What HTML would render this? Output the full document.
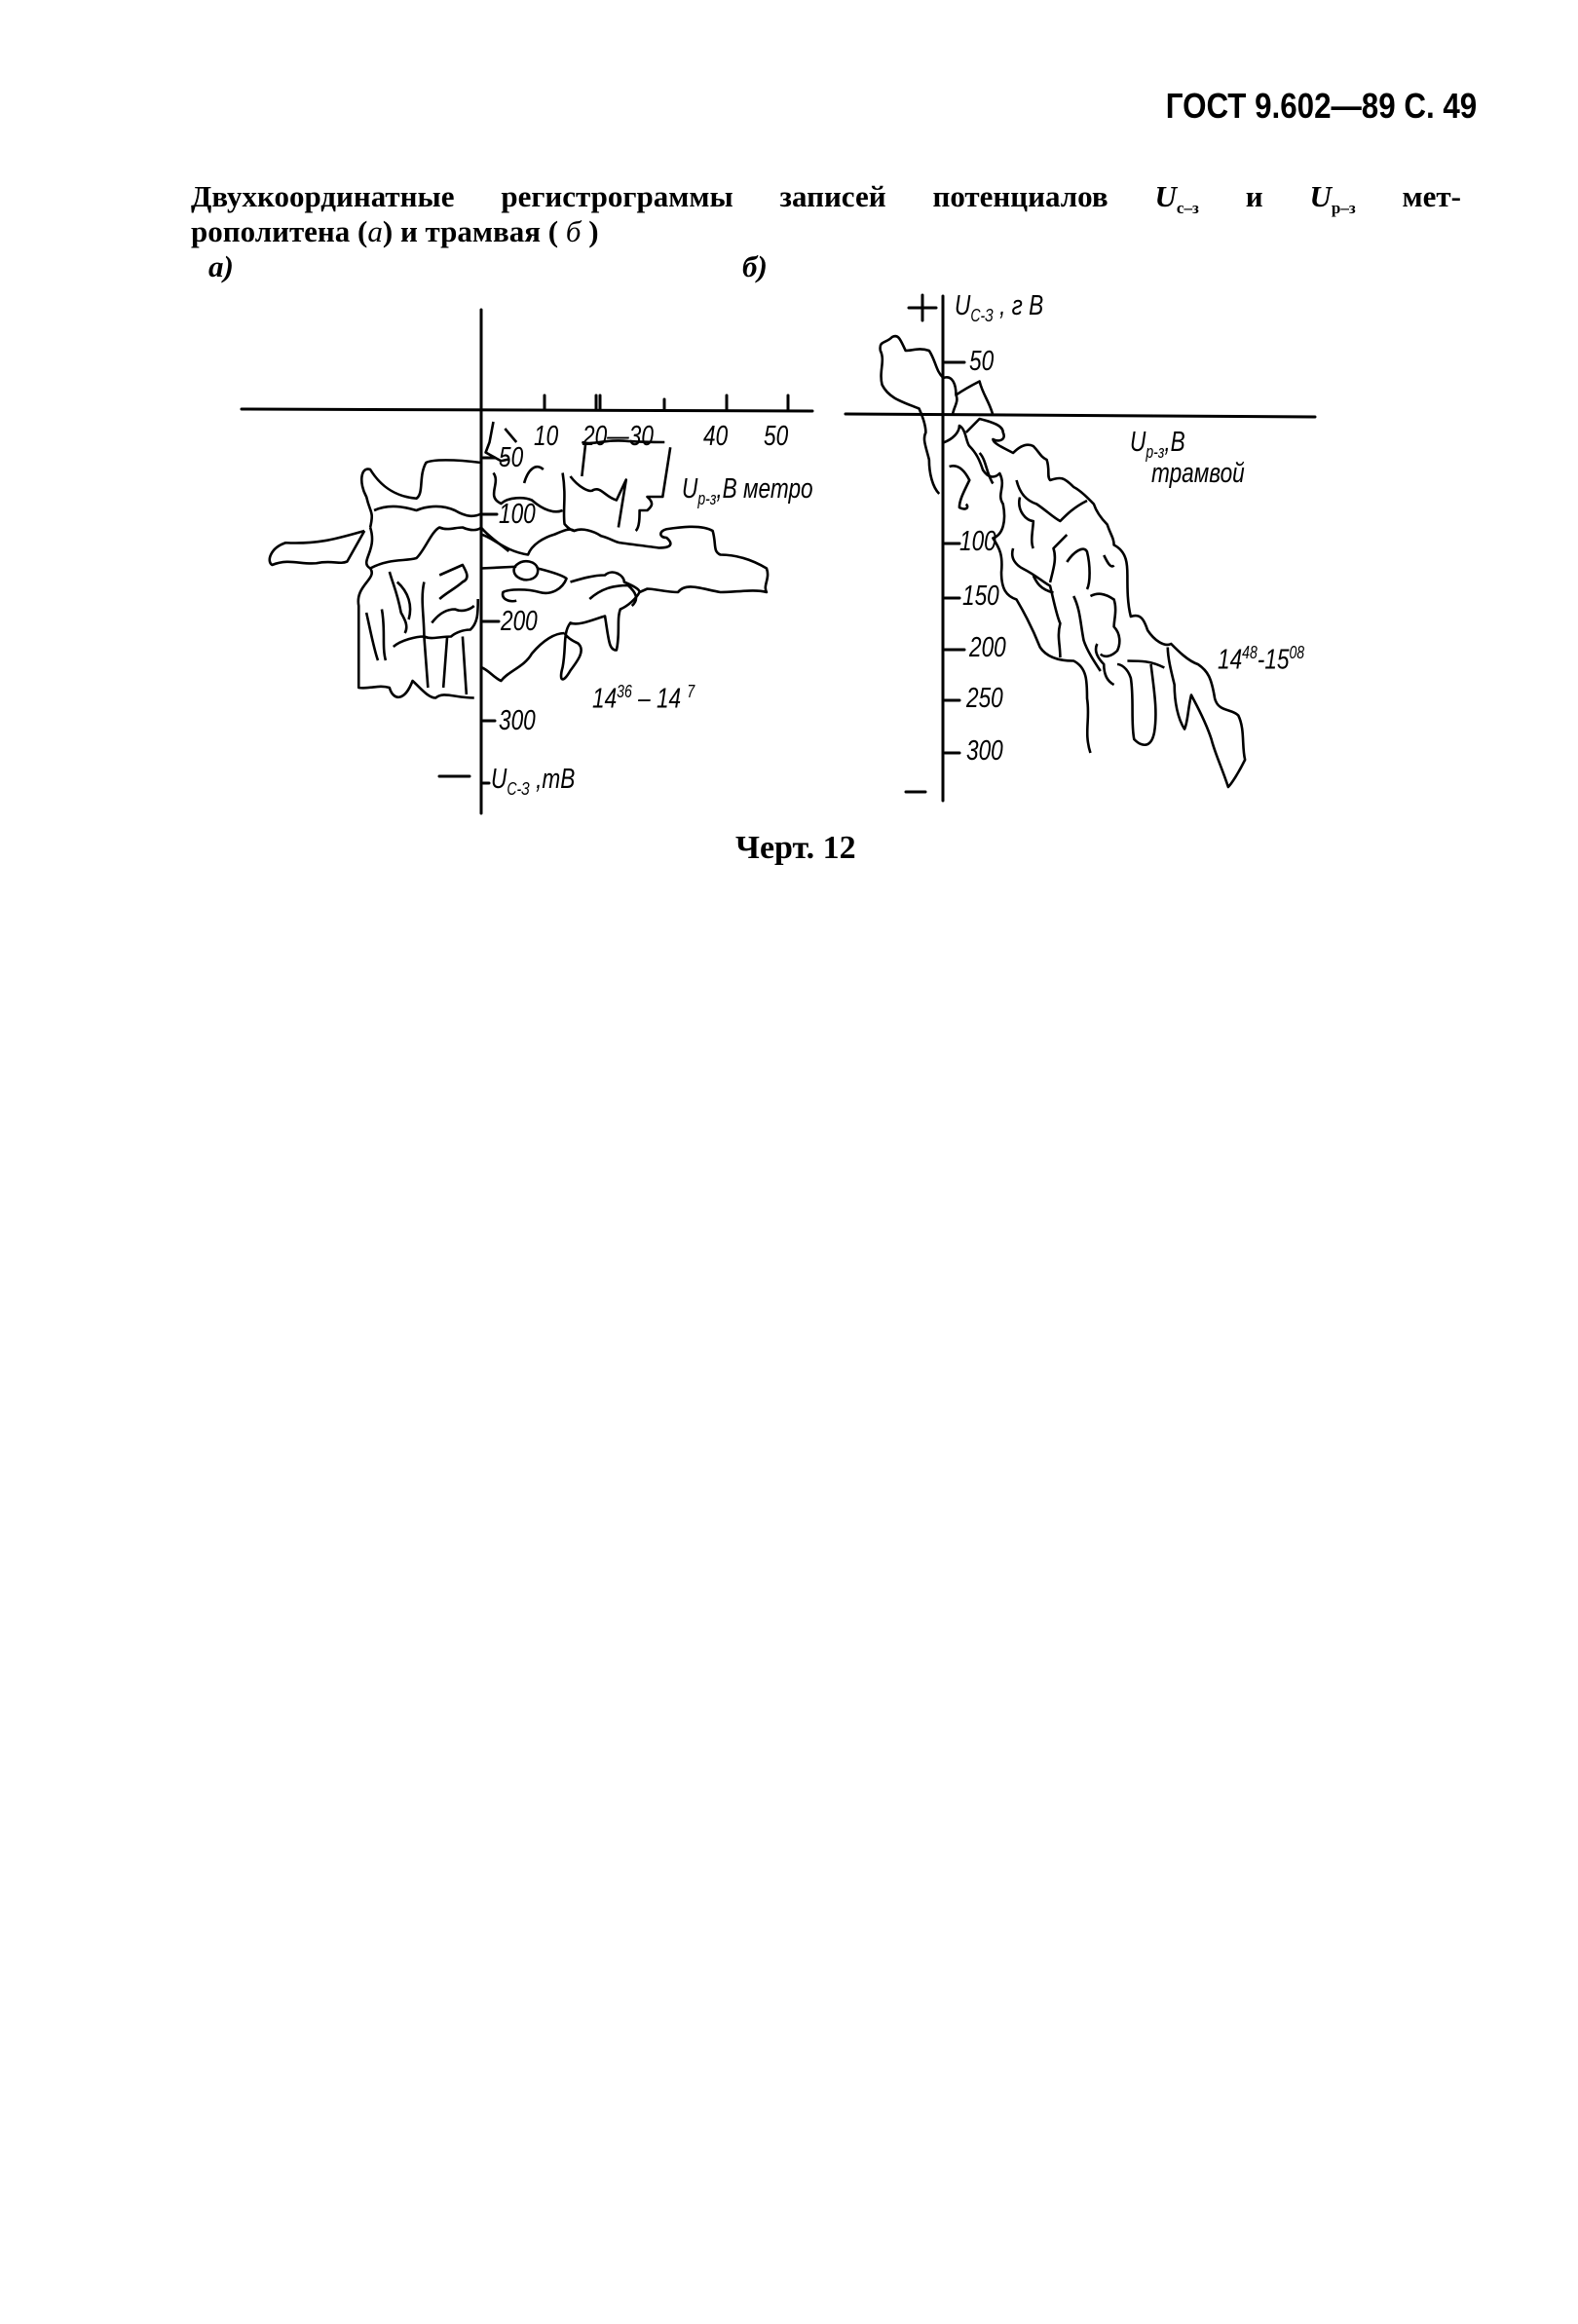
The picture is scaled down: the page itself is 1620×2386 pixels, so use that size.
<!DOCTYPE html>
<html><head><meta charset="utf-8"><style>
body{margin:0;background:#fff}
.p{position:relative;width:1620px;height:2386px;background:#fff;overflow:hidden;font-family:"Liberation Serif","Noto Serif CJK SC",serif;color:#000}
.a{position:absolute;white-space:nowrap}
.h{font-family:"Liberation Sans",sans-serif;font-weight:bold;font-size:36px;transform:scaleX(.87);transform-origin:right}
.t{font-weight:bold;font-size:31px;left:196px;width:1304px;text-align:justify;text-align-last:justify}
.l{font-family:"Liberation Sans",sans-serif;font-style:italic;font-size:29px;transform:scaleX(.78);transform-origin:left}
</style></head><body><div class="p">
<div class="a h" style="right:104px;top:88px">ГОСТ 9.602—89 С. 49</div>
<div class="a t" style="top:184px">Двухкоординатные регистрограммы записей потенциалов <i>U</i><sub style="font-size:17px">с–з</sub> и <i>U</i><sub style="font-size:17px">р–з</sub> мет-</div>
<div class="a" style="top:220px;left:196px;font-weight:bold;font-size:31px">рополитена (<i style="font-weight:normal">а</i>) и трамвая ( <i style="font-weight:normal">б</i> )</div>
<div class="a" style="top:256px;left:214px;font-weight:bold;font-style:italic;font-size:31px">а)</div>
<div class="a" style="top:256px;left:762px;font-weight:bold;font-style:italic;font-size:31px">б)</div>
<div class="a" style="top:852px;left:755px;font-weight:bold;font-size:34px">Черт. 12</div>

<svg class="a" style="left:0;top:0" width="1620" height="1000">
<g stroke="#000" fill="none" stroke-width="3" stroke-linecap="round" stroke-linejoin="round">
<line x1="248" y1="420" x2="834" y2="422"/>
<line x1="494" y1="318" x2="494" y2="835" stroke-width="3"/>
<line x1="559" y1="406" x2="559" y2="421"/><line x1="612" y1="406" x2="612" y2="421"/><line x1="616" y1="406" x2="616" y2="421"/><line x1="682" y1="410" x2="682" y2="421"/><line x1="746" y1="406" x2="746" y2="421"/><line x1="809" y1="406" x2="809" y2="421"/>
<line x1="451" y1="797" x2="482" y2="797"/>
<line x1="868" y1="425" x2="1350" y2="428"/>
<line x1="968" y1="304" x2="968" y2="822"/>
<line x1="933" y1="316" x2="961" y2="316"/><line x1="947" y1="303" x2="947" y2="329"/>
<line x1="930" y1="813" x2="950" y2="813"/>
<line x1="970" y1="372" x2="990" y2="372"/><line x1="970" y1="558" x2="985" y2="558"/><line x1="970" y1="614" x2="985" y2="614"/><line x1="970" y1="667" x2="990" y2="667"/><line x1="970" y1="719" x2="985" y2="719"/><line x1="970" y1="773" x2="985" y2="773"/>
<line x1="496" y1="470" x2="508" y2="470"/><line x1="496" y1="528" x2="510" y2="528"/><line x1="496" y1="638" x2="512" y2="638"/><line x1="496" y1="740" x2="508" y2="740"/><line x1="496" y1="804" x2="502" y2="804"/>
</g>
<g transform="translate(230,300) scale(0.395,0.35)" stroke="#000" fill="none" stroke-width="2.6" stroke-linejoin="round">
<path vector-effect="non-scaling-stroke" d="M668,500 C600,490 540,490 525,500 C505,540 520,590 500,605 C450,600 410,575 380,520 C355,510 350,560 370,600 C380,650 390,640 380,690"/>
<path vector-effect="non-scaling-stroke" d="M365,700 C300,720 250,740 160,735 C120,750 110,790 125,800 C170,780 200,800 240,795 C280,785 300,800 320,790 L365,700"/>
<path vector-effect="non-scaling-stroke" d="M380,690 C400,760 350,790 380,810 C400,840 340,860 350,920 L350,1160 C380,1165 400,1150 430,1160 C440,1200 470,1200 490,1140 C510,1160 530,1190 550,1190 C570,1170 600,1190 650,1190"/>
<path vector-effect="non-scaling-stroke" d="M380,810 C430,780 470,790 500,780 C520,760 540,700 560,690 C580,700 600,690 620,690 C640,700 660,700 668,690"/>
<path vector-effect="non-scaling-stroke" d="M390,640 C430,620 470,630 500,640 C520,630 560,620 600,640 C630,660 650,660 668,650"/>
<path vector-effect="non-scaling-stroke" d="M668,710 C700,720 730,760 790,770 C800,740 830,720 860,710 C880,700 900,690 910,700 C930,690 960,700 980,715 C1000,720 1020,735 1030,735 C1060,740 1100,745 1130,750 C1160,750 1170,740 1150,720 C1130,720 1130,700 1150,695 C1180,690 1240,680 1270,700 C1280,740 1270,760 1290,770 C1340,770 1380,790 1410,810 C1420,840 1400,860 1410,880 C1380,870 1330,880 1290,880 C1240,870 1200,850 1180,880 C1150,880 1120,870 1100,870 L1080,880 C1070,900 1050,920 1030,930 C1020,960 1030,1000 1020,1050 C1000,1050 1000,1020 990,950 C960,960 920,980 900,970 C880,1000 890,1040 880,1100 C870,1140 880,1150 900,1110 C920,1080 940,1050 920,1030 C900,1020 890,1010 885,1000"/>
<path vector-effect="non-scaling-stroke" d="M668,1100 C690,1110 700,1130 720,1140 C740,1110 780,1100 800,1060 C830,1020 860,1000 885,1000"/>
<path vector-effect="non-scaling-stroke" d="M760,800 C780,780 810,790 815,810 C820,840 790,850 770,840 C750,830 750,810 760,800"/>
<path vector-effect="non-scaling-stroke" d="M668,810 L760,805"/>
<path vector-effect="non-scaling-stroke" d="M815,810 C850,820 880,830 890,840 C880,870 850,890 820,880 C790,870 740,870 725,880 C720,900 740,910 760,905"/>
<path vector-effect="non-scaling-stroke" d="M900,850 C930,840 960,830 990,830 C1010,810 1040,830 1040,850 C1060,860 1080,870 1080,880"/>
<path vector-effect="non-scaling-stroke" d="M950,900 C980,870 1010,860 1050,860 C1070,880 1080,900 1060,920"/>
<path vector-effect="non-scaling-stroke" d="M700,530 C720,560 680,600 720,620 C740,600 780,600 800,610 C830,640 860,650 880,640"/>
<path vector-effect="non-scaling-stroke" d="M780,560 C790,520 810,500 830,520"/>
<path vector-effect="non-scaling-stroke" d="M880,530 C890,600 880,640 885,680 C900,700 910,700 910,700"/>
<path vector-effect="non-scaling-stroke" d="M900,540 C920,570 950,590 960,580 C980,570 990,600 1020,610 L1045,550 L1025,690"/>
<path vector-effect="non-scaling-stroke" d="M1070,700 C1080,690 1080,660 1080,640 L1100,640 C1110,630 1120,620 1100,600 L1140,600 L1160,455"/>
<path vector-effect="non-scaling-stroke" d="M930,440 C960,450 990,430 1050,437 C1090,440 1120,440 1145,440"/>
<path vector-effect="non-scaling-stroke" d="M940,440 L930,540"/>
<path vector-effect="non-scaling-stroke" d="M700,380 L690,440 L680,470 L720,495 L740,490 M730,400 L760,440"/>
<path vector-effect="non-scaling-stroke" d="M668,690 C690,720 720,740 740,760"/>
<path vector-effect="non-scaling-stroke" d="M430,820 C440,860 450,880 460,940 C470,960 480,980 470,1000"/>
<path vector-effect="non-scaling-stroke" d="M520,850 C510,900 520,950 520,1010 C540,1020 560,1010 590,1010 C600,1000 620,990 640,990 C660,970 660,940 660,900"/>
<path vector-effect="non-scaling-stroke" d="M560,830 C580,820 600,810 620,800 C630,820 640,840 620,850 C600,870 580,880 560,900"/>
<path vector-effect="non-scaling-stroke" d="M540,970 C560,940 580,930 600,930 C620,940 640,930 650,920"/>
<path vector-effect="non-scaling-stroke" d="M370,940 C380,990 390,1050 400,1080 M410,930 C420,990 410,1040 420,1080"/>
<path vector-effect="non-scaling-stroke" d="M440,1040 C460,1020 500,1010 520,1010 L530,1160 M580,1010 L570,1160 M620,1010 L630,1180"/>
<path vector-effect="non-scaling-stroke" d="M450,850 C480,880 490,920 480,960"/>
</g>
<g transform="translate(840,290) scale(0.345,0.35)" stroke="#000" fill="none" stroke-width="2.6" stroke-linejoin="round">
<path vector-effect="non-scaling-stroke" d="M372,280 C350,260 350,230 330,200 C300,190 280,200 260,200 C245,170 240,150 220,160 C200,180 180,170 185,200 C200,230 180,260 190,300 C210,340 250,350 300,370 C310,390 320,420 320,440 C310,460 320,480 330,520 C330,560 340,600 360,620"/>
<path vector-effect="non-scaling-stroke" d="M372,280 C400,270 410,300 410,330 C420,350 400,370 400,390 M410,330 C440,310 460,300 480,290 C490,330 510,350 520,390"/>
<path vector-effect="non-scaling-stroke" d="M372,470 C400,460 420,440 420,420 C440,430 440,470 450,480 C470,500 480,520 490,550 C510,580 530,570 540,560 C560,600 530,620 550,650 C560,700 550,740 520,750 C540,780 550,800 545,850 C545,900 560,920 590,930 C620,980 640,1020 660,1070 C680,1100 720,1110 760,1110 C800,1130 800,1170 800,1220 C810,1280 790,1320 810,1380"/>
<path vector-effect="non-scaling-stroke" d="M440,440 C460,420 470,410 480,400 C520,410 550,420 550,440 C560,460 540,470 520,460 C520,470 540,480 580,500 C600,480 620,470 640,480 C660,500 660,510 680,520 C690,550 680,570 690,580 C720,570 730,570 760,600 C780,610 800,630 820,650 C830,680 850,700 860,710 C870,740 880,750 880,770 C920,790 920,830 920,860 C920,900 920,940 930,980 C960,970 970,990 980,1020 C1000,1050 1030,1070 1050,1060 C1070,1080 1100,1110 1130,1120 C1160,1140 1170,1160 1180,1220 C1190,1260 1230,1250 1250,1270 C1270,1310 1260,1360 1270,1400 C1250,1440 1230,1470 1220,1480 C1200,1420 1180,1380 1170,1340 C1150,1280 1120,1230 1110,1210 C1100,1250 1100,1290 1090,1310 C1070,1280 1060,1230 1060,1180 C1050,1140 1040,1100 1040,1070"/>
<path vector-effect="non-scaling-stroke" d="M990,1120 C1000,1200 1010,1260 1000,1320 C990,1370 960,1360 940,1340 C930,1290 940,1220 930,1160 C920,1130 900,1120 890,1120 M880,1180 C860,1170 850,1150 850,1120 C830,1100 820,1080 830,1060"/>
<path vector-effect="non-scaling-stroke" d="M480,500 C500,520 500,560 520,590 M590,580 C600,620 620,640 650,650 C680,670 700,690 720,700 C740,680 760,660 800,640 M600,630 C590,670 620,700 640,700 C640,720 630,760 640,780"/>
<path vector-effect="non-scaling-stroke" d="M580,780 C570,810 590,830 610,840 C650,860 670,880 690,890 C700,930 710,980 720,1000 C710,1040 720,1060 720,1100 M690,880 C700,840 710,810 700,780 C720,760 730,750 740,740"/>
<path vector-effect="non-scaling-stroke" d="M740,820 C760,790 790,770 800,790 C810,830 810,880 800,900 M810,920 C830,910 850,910 880,930 C890,960 880,990 880,1010 C900,1030 900,1060 890,1080 C870,1100 850,1100 840,1090 M920,1110 C960,1110 990,1110 1030,1130"/>
<path vector-effect="non-scaling-stroke" d="M760,920 C780,960 780,1000 790,1050 C800,1080 820,1110 840,1140 M640,860 C650,880 660,900 700,910 M850,800 C860,820 870,840 880,830 M390,540 C420,530 440,560 450,580 C430,620 420,640 420,660 C440,670 450,660 440,650"/>
</g>
</svg>

<div class="a l" style="left:548px;top:432px">10</div>
<div class="a l" style="left:598px;top:432px">20—30</div>
<div class="a l" style="left:722px;top:432px">40</div>
<div class="a l" style="left:784px;top:432px">50</div>
<div class="a l" style="left:512px;top:454px">50</div>
<div class="a l" style="left:700px;top:486px"><i>U</i><sub style="font-size:18px">р-з</sub>,<i>В метро</i></div>
<div class="a l" style="left:512px;top:512px">100</div>
<div class="a l" style="left:514px;top:622px">200</div>
<div class="a l" style="left:512px;top:724px">300</div>
<div class="a l" style="left:608px;top:700px">14<sup style="font-size:18px">36</sup> – 14 <sup style="font-size:18px">7</sup></div>
<div class="a l" style="left:504px;top:784px">U<sub style="font-size:18px">С-З</sub> ,mB</div>
<div class="a l" style="left:980px;top:298px">U<sub style="font-size:18px">С-З</sub> , г В</div>
<div class="a l" style="left:995px;top:355px">50</div>
<div class="a l" style="left:985px;top:540px">100</div>
<div class="a l" style="left:988px;top:596px">150</div>
<div class="a l" style="left:995px;top:649px">200</div>
<div class="a l" style="left:992px;top:701px">250</div>
<div class="a l" style="left:992px;top:755px">300</div>
<div class="a l" style="left:1160px;top:438px">U<sub style="font-size:18px">р-з</sub>,В</div>
<div class="a l" style="left:1182px;top:470px">трамвой</div>
<div class="a l" style="left:1250px;top:660px">14<sup style="font-size:18px">48</sup>-15<sup style="font-size:18px">08</sup></div>
</div></body></html>
